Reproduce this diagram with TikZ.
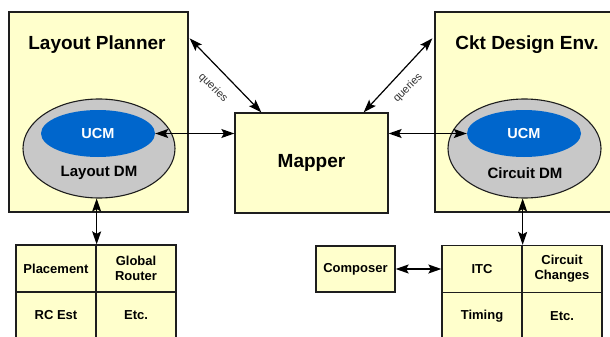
\documentclass[tikz,border=0pt]{standalone}
\usepackage{fontspec}
\setmainfont{Liberation Sans}
\usetikzlibrary{shapes.geometric,arrows.meta}
\definecolor{paleyellow}{RGB}{255,255,204}
\definecolor{ucmblue}{RGB}{0,102,204}
\definecolor{dmgray}{RGB}{200,200,200}
\definecolor{edgegray}{RGB}{30,30,30}
\begin{document}
\begin{tikzpicture}[x=1pt,y=-1pt,
  yellowbox/.style={draw=edgegray, line width=1.3pt, fill=paleyellow, inner sep=0pt},
  titletext/.style={font=\bfseries\fontsize{19}{22}\selectfont},
  dmell/.style={ellipse, draw=edgegray, line width=1.1pt, fill=dmgray, inner sep=0pt},
  ucmell/.style={ellipse, fill=ucmblue, inner sep=0pt, text=white, font=\bfseries\fontsize{14.5}{17}\selectfont},
  dmtext/.style={font=\bfseries\fontsize{15}{18}\selectfont},
  cell/.style={yellowbox, minimum width=80pt, minimum height=47pt, align=center, font=\bfseries\fontsize{13}{15}\selectfont},
  link/.style={line width=1.2pt, {Stealth[length=13pt,width=9pt,inset=2.5pt]}-{Stealth[length=13pt,width=9pt,inset=2.5pt]}},
  qtext/.style={font=\fontsize{11}{13}\selectfont, text=black!80}
]
\useasboundingbox (0,0) rectangle (610,337);
\clip (0,0) rectangle (610,337);
\fill[white] (0,0) rectangle (610,337);

% main boxes
\node[yellowbox, minimum width=179pt, minimum height=200pt] (lp) at (98.5,112) {};
\node[titletext] (lpt) at (97,45) {Layout Planner};
\node[yellowbox, minimum width=185pt, minimum height=200pt] (ckt) at (527.5,112) {};
\node[titletext] (cktt) at (527,45) {Ckt Design Env.};
\node[yellowbox, minimum width=153pt, minimum height=100pt, font=\bfseries\fontsize{19}{22}\selectfont] (mapper) at (311.5,163) {Mapper};

% data models
\node[dmell, minimum width=152pt, minimum height=99pt] (ldm) at (99,148.5) {};
\node[ucmell, minimum width=114pt, minimum height=47pt] (lucm) at (98,133.5) {UCM};
\node[dmtext] (ldmt) at (99,173) {Layout DM};
\node[dmell, minimum width=153pt, minimum height=99pt] (rdm) at (524.5,148.5) {};
\node[ucmell, minimum width=114pt, minimum height=47pt] (rucm) at (524,133.5) {UCM};
\node[dmtext] (rdmt) at (525,173) {Circuit DM};

% left grid
\node[cell] (pl) at (56,268.5) {Placement};
\node[cell] (gr) at (136,268.5) {Global\\Router};
\node[cell] (rc) at (56,315.5) {RC Est};
\node[cell] (le) at (136,315.5) {Etc.};

% right grid
\node[cell] (itc) at (482,269) {ITC};
\node[cell] (cc) at (562,269) {Circuit\\Changes};
\node[cell] (tim) at (482,316) {Timing};
\node[cell] (re) at (562,316) {Etc.};
\node[cell, minimum width=79pt, minimum height=46pt] (comp) at (355.5,269) {Composer};

% connectors
\draw[link] (lucm.east) -- (lucm.east -| mapper.west);
\draw[link] (rucm.west -| mapper.east) -- (rucm.west);
\draw[link] ([xshift=1pt,yshift=-27pt]lp.north east) -- ([xshift=27pt]mapper.north west);
\draw[link] ([xshift=-2pt,yshift=-27pt]ckt.north west) -- ([xshift=-25pt]mapper.north east);
\draw[link] (pl.north east |- ldm.south) -- (pl.north east);
\draw[link] (itc.north east |- rdm.south) -- (itc.north east);
\draw[link] (comp.east) -- (itc.west);

\node[qtext, rotate=-45] (ql) at (213,88) {queries};
\node[qtext, rotate=45] (qr) at (408,88) {queries};
\end{tikzpicture}
\end{document}
